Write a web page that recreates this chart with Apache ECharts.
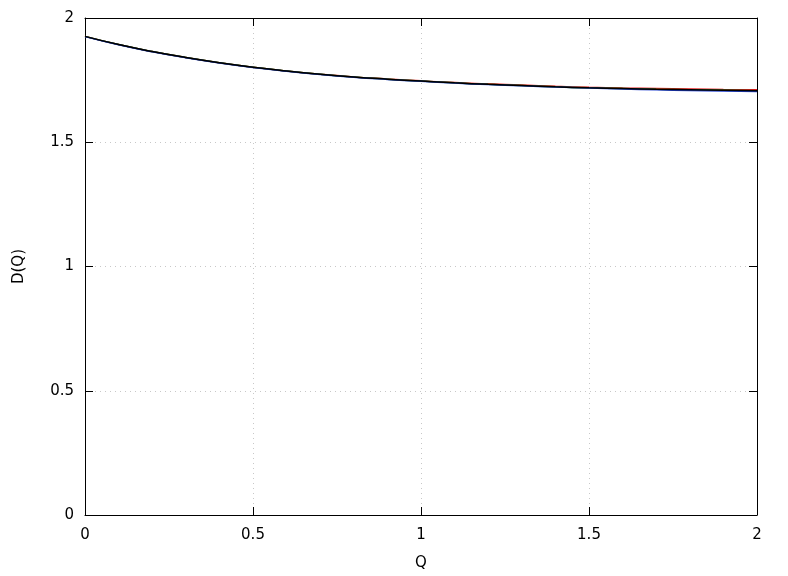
<!DOCTYPE html>
<html><head><meta charset="utf-8">
<script src="https://cdn.jsdelivr.net/npm/echarts@6/dist/echarts.min.js"></script>
<style>html,body{margin:0;padding:0;background:#fff}#c{width:788px;height:576px}</style>
</head><body><div id="c"></div>
<script>
const Q = [0,0.1,0.2,0.3,0.4,0.5,0.6,0.7,0.8,0.9,1.0,1.1,1.2,1.3,1.4,1.5,1.6,1.7,1.8,1.9,2.0];
const redD   = [1.926,1.893,1.865,1.841,1.820,1.802,1.787,1.774,1.763,1.755,1.747,1.740,1.735,1.730,1.725,1.721,1.718,1.716,1.714,1.712,1.711];
const greenD = [1.926,1.893,1.865,1.841,1.820,1.802,1.787,1.774,1.763,1.754,1.746,1.739,1.733,1.728,1.723,1.719,1.716,1.713,1.711,1.709,1.707];
const blueD  = [1.925,1.892,1.864,1.840,1.819,1.801,1.786,1.773,1.762,1.753,1.745,1.738,1.732,1.727,1.722,1.718,1.714,1.711,1.708,1.706,1.704];
const blackD = [1.926,1.893,1.865,1.841,1.820,1.802,1.787,1.774,1.763,1.754,1.746,1.739,1.733,1.728,1.723,1.719,1.716,1.713,1.711,1.709,1.707];
const xTicks = [0,0.5,1,1.5,2];
const yTicks = [0,0.5,1,1.5,2];

const font = 'DejaVu Sans';
const chart = echarts.init(document.getElementById('c'), null, {renderer:'canvas'});
const pair = (xs, ys) => xs.map((x,i)=>[x, ys[i]]);
const mk = (name, color, ys) => ({name, type:'line', data:pair(Q, ys), showSymbol:false, smooth:true,
  lineStyle:{color, width:1.5}, itemStyle:{color}, xAxisIndex:0, yAxisIndex:0, animation:false});
const fmt = v => String(v);
const tick = {show:true, inside:true, length:8, lineStyle:{color:'#000', width:1}};
chart.setOption({
  animation:false,
  grid:{left:85, right:31, top:18, bottom:61, containLabel:false},
  xAxis:[
    {type:'value', min:0, max:2, interval:0.5, position:'bottom',
     axisLine:{show:true, onZero:false, lineStyle:{color:'#000', width:1}},
     axisTick:tick,
     axisLabel:{color:'#000', fontFamily:font, fontSize:15, margin:13, formatter:fmt},
     splitLine:{show:true, lineStyle:{color:'#c8c8c8', type:[1,4], width:1}},
     name:'Q', nameLocation:'middle', nameGap:41, nameTextStyle:{color:'#000', fontFamily:font, fontSize:15}},
    {type:'value', min:0, max:2, interval:0.5, position:'top',
     axisLine:{show:true, onZero:false, lineStyle:{color:'#000', width:1}},
     axisTick:tick,
     axisLabel:{show:false}, splitLine:{show:false}}
  ],
  yAxis:[
    {type:'value', min:0, max:2, interval:0.5, position:'left',
     axisLine:{show:true, onZero:false, lineStyle:{color:'#000', width:1}},
     axisTick:tick,
     axisLabel:{color:'#000', fontFamily:font, fontSize:15, margin:11, formatter:fmt},
     splitLine:{show:true, lineStyle:{color:'#c8c8c8', type:[1,4], width:1}},
     name:'D(Q)', nameLocation:'middle', nameGap:58, nameRotate:90, nameTextStyle:{color:'#000', fontFamily:font, fontSize:15}},
    {type:'value', min:0, max:2, interval:0.5, position:'right',
     axisLine:{show:true, onZero:false, lineStyle:{color:'#000', width:1}},
     axisTick:tick,
     axisLabel:{show:false}, splitLine:{show:false}}
  ],
  series:[
    mk('red', '#e41a1c', redD),
    mk('green', '#1a9e1a', greenD),
    mk('blue', '#1f3fd0', blueD),
    mk('black', '#000000', blackD)
  ]
});
</script></body></html>
